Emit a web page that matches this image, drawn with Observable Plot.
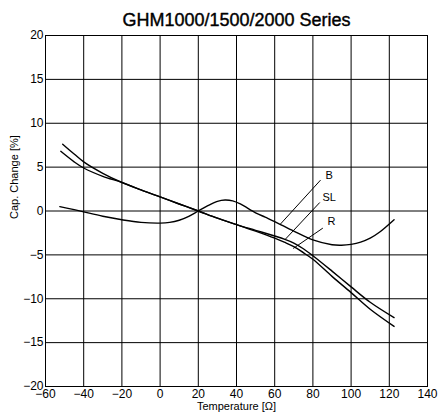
<!DOCTYPE html>
<html>
<head>
<meta charset="utf-8">
<script src="https://cdn.jsdelivr.net/npm/d3@7"></script>
<script src="https://cdn.jsdelivr.net/npm/@observablehq/plot@0.6"></script>
<style>
  html, body { margin: 0; padding: 0; background: #fff; }
</style>
</head>
<body>
<div id="chart"></div>
<script>
const title = "GHM1000/1500/2000 Series";
const xLabel = "Temperature [Ω]";
const yLabel = "Cap. Change [%]";
const xTicks = [-60, -40, -20, 0, 20, 40, 60, 80, 100, 120, 140];
const yTicks = [-20, -15, -10, -5, 0, 5, 10, 15, 20];

// [temperature °C, capacitance change %]
const seriesB = [
  [-52.5, 0.5], [-45, 0.15], [-40, -0.1], [-30, -0.6], [-20, -1.0], [-10, -1.3],
  [0, -1.38], [5, -1.3], [10, -1.05], [15, -0.6], [20, 0], [25, 0.6], [30, 1.1],
  [34, 1.25], [38, 1.15], [42, 0.8], [50, -0.2], [55, -0.7], [60, -1.2], [70, -2.3],
  [80, -3.3], [90, -3.85], [95, -3.9], [100, -3.8], [105, -3.55], [110, -3.1],
  [115, -2.4], [122.5, -1.0]
];
const seriesSL = [
  [-51, 7.6], [-45, 6.5], [-40, 5.6], [-30, 4.3], [-20, 3.25], [-10, 2.4], [0, 1.6],
  [10, 0.8], [20, 0], [30, -0.82], [40, -1.55], [50, -2.2], [60, -2.85], [65, -3.2],
  [70, -3.65], [75, -4.3], [80, -5.1], [90, -6.85], [100, -8.65], [110, -10.4], [122.5, -12.15]
];
const seriesR = [
  [-52, 6.8], [-45, 5.6], [-40, 4.9], [-30, 3.95], [-20, 3.25], [-10, 2.4], [0, 1.6],
  [10, 0.8], [20, 0], [30, -0.82], [40, -1.55], [50, -2.3], [60, -3.1], [65, -3.55],
  [70, -4.05], [75, -4.75], [80, -5.5], [90, -7.45], [100, -9.3], [110, -11.2], [122.5, -13.15]
];

// labels: name, label anchor point, leader start, leader end (data units)
const labelNames = ["B", "SL", "R"];
const labelPos = [[86.6, 4.0], [85.0, 1.54], [87.6, -1.23]];
const leaderFrom = [[84.0, 3.52], [83.6, 0.97], [85.2, -1.95]];
const leaderTo = [[63.0, -1.49], [65.3, -3.28], [69.7, -4.27]];

const lines = [
  ...seriesB.map(([t, v]) => ({t, v, s: "B"})),
  ...seriesSL.map(([t, v]) => ({t, v, s: "SL"})),
  ...seriesR.map(([t, v]) => ({t, v, s: "R"}))
];
const labels = labelNames.map((name, i) => ({
  name, x: labelPos[i][0], y: labelPos[i][1],
  x1: leaderFrom[i][0], y1: leaderFrom[i][1], x2: leaderTo[i][0], y2: leaderTo[i][1]
}));

const fmt = d => String(d).replace("-", "\u2212");

const chart = Plot.plot({
  width: 439,
  height: 420,
  marginLeft: 45,
  marginRight: 12,
  marginTop: 35,
  marginBottom: 34,
  style: {fontFamily: "'Liberation Sans', Arial, sans-serif", fontSize: "12px", color: "black", background: "white"},
  x: {domain: [-60, 140]},
  y: {domain: [-20, 20]},
  marks: [
    Plot.ruleX(xTicks, {stroke: "black", strokeWidth: 1}),
    Plot.ruleY(yTicks, {stroke: "black", strokeWidth: 1}),
    Plot.frame({stroke: "black", strokeWidth: 1}),
    Plot.axisX(xTicks, {tickSize: 0, tickPadding: 3, fontSize: 12, tickFormat: fmt, label: null}),
    Plot.axisY(yTicks, {tickSize: 0, tickPadding: 2, fontSize: 12, tickFormat: fmt, label: null}),
    Plot.line(lines, {x: "t", y: "v", z: "s", stroke: "black", strokeWidth: 1.4, curve: "catmull-rom"}),
    Plot.link(labels, {x1: "x1", y1: "y1", x2: "x2", y2: "y2", stroke: "black", strokeWidth: 1}),
    Plot.text(labels, {x: "x", y: "y", text: "name", textAnchor: "start", fontSize: 11, fill: "black"}),
    Plot.text([title], {frameAnchor: "top", dy: -22, fontSize: 18, fill: "black", stroke: "black", strokeWidth: 0.4}),
    Plot.text([xLabel], {frameAnchor: "bottom", dy: 23, fontSize: 11, fill: "black"}),
    Plot.text([yLabel], {frameAnchor: "left", dx: -31, dy: 8, rotate: -90, fontSize: 11, fill: "black"})
  ]
});
document.getElementById("chart").appendChild(chart);
</script>
</body>
</html>
